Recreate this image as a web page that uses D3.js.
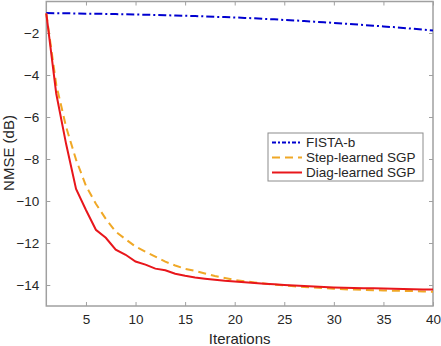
<!DOCTYPE html>
<html>
<head>
<meta charset="utf-8">
<script src="https://cdn.jsdelivr.net/npm/d3@7"></script>
<style>
  body { margin: 0; background: #fff; }
  svg { font-family: "Liberation Sans", Arial, Helvetica, sans-serif; }
  .tick text { fill: #262626; font-size: 13.5px; }
</style>
</head>
<body>
<svg width="441" height="346"></svg>
<script>
// iteration index 1..40
var iterations = d3.range(1, 41);

var fistaB = [-1.05, -1.06, -1.06, -1.07, -1.08, -1.08, -1.09, -1.10, -1.11, -1.12,
  -1.13, -1.14, -1.15, -1.17, -1.18, -1.19, -1.21, -1.23, -1.24, -1.26,
  -1.28, -1.30, -1.33, -1.35, -1.38, -1.40, -1.43, -1.46, -1.49, -1.52,
  -1.55, -1.58, -1.62, -1.65, -1.69, -1.72, -1.76, -1.80, -1.84, -1.88];

var stepLearned = [-1.07, -4.45, -6.48, -8.03, -9.28, -10.13, -10.85, -11.46, -11.82, -12.17,
  -12.42, -12.65, -12.89, -13.07, -13.23, -13.33, -13.45, -13.57, -13.67, -13.76,
  -13.82, -13.88, -13.93, -13.98, -14.02, -14.06, -14.09, -14.12, -14.15, -14.18,
  -14.20, -14.22, -14.23, -14.25, -14.26, -14.27, -14.28, -14.29, -14.31, -14.32];

var diagLearned = [-1.07, -4.88, -7.29, -9.43, -10.43, -11.37, -11.75, -12.32, -12.56, -12.88,
  -13.03, -13.22, -13.30, -13.46, -13.56, -13.64, -13.70, -13.75, -13.80, -13.83,
  -13.87, -13.91, -13.94, -13.97, -14.00, -14.02, -14.05, -14.07, -14.10, -14.12,
  -14.13, -14.14, -14.15, -14.16, -14.17, -14.18, -14.19, -14.20, -14.21, -14.22];

var seriesNames = ["FISTA-b", "Step-learned SGP", "Diag-learned SGP"];
var xTicks = [5, 10, 15, 20, 25, 30, 35, 40];
var yTicks = [-14, -12, -10, -8, -6, -4, -2];

var margin = {left: 46.3, top: 1.5, right: 8, bottom: 40};
var width = 441, height = 346;

var svg = d3.select("svg");

var x = d3.scaleLinear().domain([1, 40]).range([margin.left, width - margin.right]);
var y = d3.scaleLinear().domain([-15, -0.5]).range([height - margin.bottom, margin.top]);

var axisColor = "#a0a0a0";

function styleAxis(g) {
  g.select(".domain").remove();
  g.selectAll(".tick line").attr("stroke", axisColor).attr("stroke-width", 1);
}

// bottom + left with labels, ticks pointing inward
svg.append("g")
  .attr("transform", "translate(0," + y.range()[0] + ")")
  .call(d3.axisBottom(x).tickValues(xTicks).tickSizeInner(-4).tickSizeOuter(0).tickPadding(8))
  .call(styleAxis);

svg.append("g")
  .attr("transform", "translate(" + x.range()[0] + ",0)")
  .call(d3.axisLeft(y).tickValues(yTicks).tickSizeInner(-4).tickSizeOuter(0).tickPadding(7))
  .call(styleAxis);

// top + right mirrored ticks
svg.append("g")
  .attr("transform", "translate(0," + y.range()[1] + ")")
  .call(d3.axisTop(x).tickValues(xTicks).tickSizeInner(-4).tickSizeOuter(0).tickFormat(""))
  .call(styleAxis);

svg.append("g")
  .attr("transform", "translate(" + x.range()[1] + ",0)")
  .call(d3.axisRight(y).tickValues(yTicks).tickSizeInner(-4).tickSizeOuter(0).tickFormat(""))
  .call(styleAxis);

// box
svg.append("rect")
  .attr("x", x.range()[0])
  .attr("y", y.range()[1])
  .attr("width", x.range()[1] - x.range()[0])
  .attr("height", y.range()[0] - y.range()[1])
  .attr("fill", "none")
  .attr("stroke", axisColor)
  .attr("stroke-width", 1.5);

var series = [
  {name: seriesNames[0], values: fistaB, color: "#0000d0", dash: "8,3,2,3"},
  {name: seriesNames[1], values: stepLearned, color: "#f0a826", dash: "8,5"},
  {name: seriesNames[2], values: diagLearned, color: "#e8161b", dash: null}
];

var line = d3.line()
  .x(function(d, i) { return x(iterations[i]); })
  .y(function(d) { return y(d); });

series.forEach(function(s) {
  svg.append("path")
    .datum(s.values)
    .attr("d", line)
    .attr("fill", "none")
    .attr("stroke", s.color)
    .attr("stroke-width", 2)
    .attr("stroke-dasharray", s.dash);
});

// axis labels
svg.append("text")
  .attr("x", (x.range()[0] + x.range()[1]) / 2)
  .attr("y", 344)
  .attr("text-anchor", "middle")
  .attr("fill", "#262626")
  .style("font-size", "15px")
  .text("Iterations");

svg.append("text")
  .attr("transform", "rotate(-90)")
  .attr("x", -153)
  .attr("y", 14)
  .attr("text-anchor", "middle")
  .attr("fill", "#262626")
  .style("font-size", "15px")
  .text("NMSE (dB)");

// legend
var legend = svg.append("g").attr("transform", "translate(268,133)");
legend.append("rect")
  .attr("width", 155)
  .attr("height", 48)
  .attr("fill", "#fff")
  .attr("stroke", "#8c8c8c")
  .attr("stroke-width", 1);

series.forEach(function(s, i) {
  var row = legend.append("g").attr("transform", "translate(0," + (9.5 + i * 15) + ")");
  row.append("line")
    .attr("x1", 4).attr("x2", 34)
    .attr("stroke", s.color)
    .attr("stroke-width", 2)
    .attr("stroke-dasharray", i === 0 ? "4,2,2,2" : s.dash);
  row.append("text")
    .attr("x", 38)
    .attr("dy", "0.35em")
    .attr("fill", "#262626")
    .style("font-size", "13.5px")
    .text(s.name);
});
</script>
</body>
</html>
